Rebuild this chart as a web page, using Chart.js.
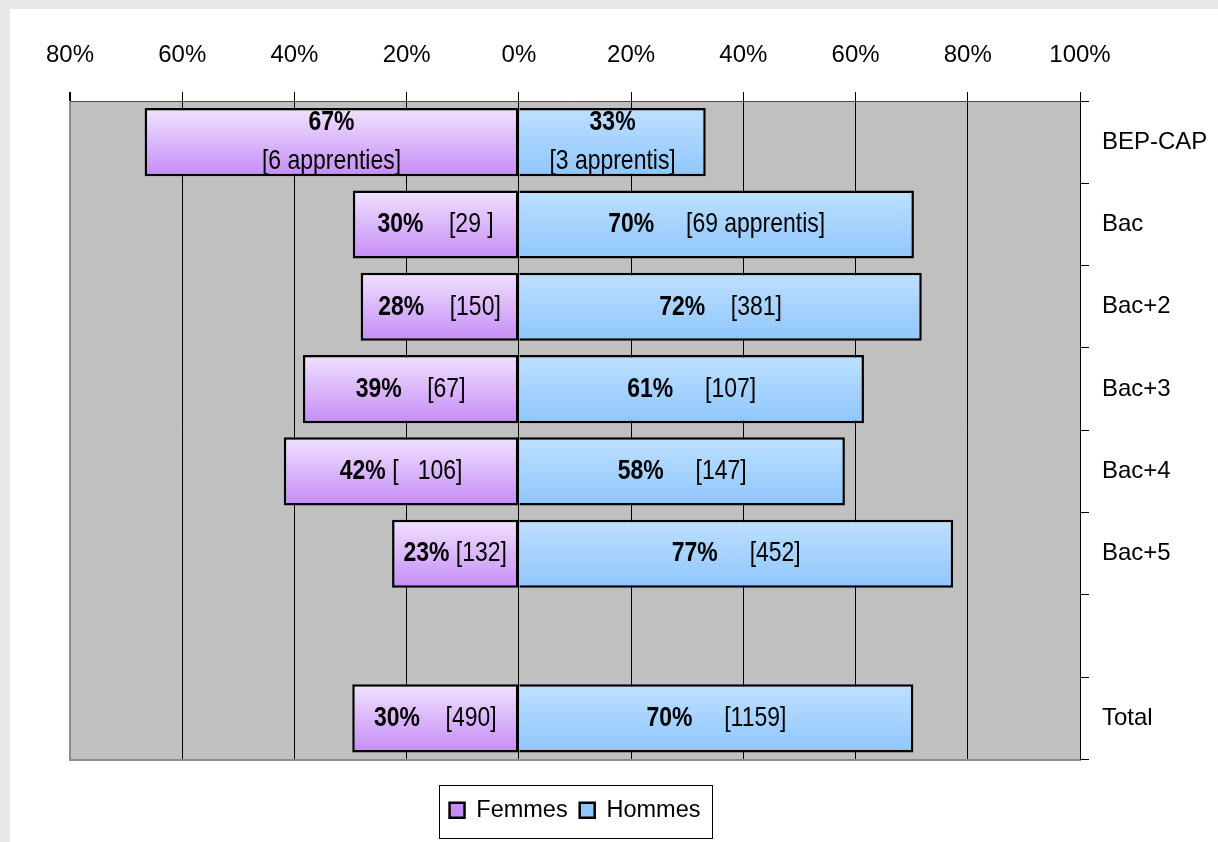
<!DOCTYPE html>
<html>
<head>
<meta charset="utf-8">
<script src="https://cdn.jsdelivr.net/npm/chart.js@4.4.1/dist/chart.umd.min.js"></script>
<style>
  html, body { margin: 0; padding: 0; background: #ffffff; }
  canvas { display: block; }
</style>
</head>
<body>
<canvas id="chart" width="1218" height="842"></canvas>
<script>
// ---------- DATA ----------
const categories = ["BEP-CAP", "Bac", "Bac+2", "Bac+3", "Bac+4", "Bac+5", "", "Total"];
const seriesNames = ["Femmes", "Hommes"];
// shares in % (Femmes drawn to the left, hence negative)
const femmesValues = [-66.7, -29.6, -28.2, -38.5, -41.9, -22.6, null, -29.7];
const hommesValues = [33.3, 70.4, 71.8, 61.5, 58.1, 77.4, null, 70.3];
// bar texts
const femmesPct = ["67%", "30%", "28%", "39%", "42%", "23%", "", "30%"];
const hommesPct = ["33%", "70%", "72%", "61%", "58%", "77%", "", "70%"];
const femmesCounts = ["\n[6 apprenties]", "    [29 ]", "    [150]", "    [67]", " [   106]", " [132]", "", "    [490]"];
const hommesCounts = ["\n[3 apprentis]", "     [69 apprentis]", "    [381]", "     [107]", "     [147]", "     [452]", "", "     [1159]"];
// axis
const xMin = -80, xMax = 100, xStep = 20;

// ---------- STYLE ----------
const FONT = '"Liberation Sans", Arial, sans-serif';
const NARROW_SCALE = 0.82;   // emulates a narrow face
const BAR_PCT = 0.827;

function barGradient(top, bottom, mid) {
  return (c) => {
    const chart = c.chart;
    if (c.type !== 'data' || !chart.chartArea || !chart.scales.y) return mid;
    const ys = chart.scales.y;
    const centre = ys.getPixelForValue(c.dataIndex);
    const half = (ys.height / categories.length) * BAR_PCT / 2;
    const g = chart.ctx.createLinearGradient(0, centre - half, 0, centre + half);
    g.addColorStop(0, top);
    g.addColorStop(1, bottom);
    return g;
  };
}

const backgroundPlugin = {
  id: 'panelBackground',
  beforeDraw(chart) {
    const { ctx, width, height, chartArea } = chart;
    ctx.save();
    ctx.fillStyle = '#e8e8e8';
    ctx.fillRect(0, 0, width, height);
    ctx.fillStyle = '#ffffff';
    ctx.fillRect(10, 9, width - 10, height - 9);
    ctx.fillStyle = '#c0c0c0';
    ctx.fillRect(chartArea.left, chartArea.top, chartArea.right - chartArea.left, chartArea.bottom - chartArea.top);
    ctx.restore();
  }
};

function narrowWidth(ctx, text, font) {
  ctx.font = font;
  return ctx.measureText(text).width * NARROW_SCALE;
}
function narrowText(ctx, text, x, y, font, align) {
  ctx.save();
  ctx.font = font;
  ctx.textAlign = align;
  ctx.textBaseline = 'middle';
  ctx.translate(x, y);
  ctx.scale(NARROW_SCALE, 1);
  ctx.fillText(text, 0, 0);
  ctx.restore();
}

const barLabelsPlugin = {
  id: 'barLabels',
  afterDatasetsDraw(chart) {
    const ctx = chart.ctx;
    const boldFont = 'bold 28px ' + FONT;
    const normFont = '28px ' + FONT;
    chart.data.datasets.forEach((ds, di) => {
      const meta = chart.getDatasetMeta(di);
      meta.data.forEach((bar, i) => {
        const pct = ds.pctLabels[i];
        const cnt = ds.countLabels[i];
        if (!pct) return;
        const { x, y, base } = bar.getProps(['x', 'y', 'base'], true);
        const cx = (x + base) / 2;
        ctx.save();
        ctx.fillStyle = '#000';
        if (cnt.startsWith('\n')) {
          narrowText(ctx, pct, cx, y - 20, boldFont, 'center');
          narrowText(ctx, cnt.slice(1), cx, y + 19, normFont, 'center');
        } else {
          const wp = narrowWidth(ctx, pct, boldFont);
          const wc = narrowWidth(ctx, cnt, normFont);
          const start = cx - (wp + wc) / 2;
          narrowText(ctx, pct, start, y, boldFont, 'left');
          narrowText(ctx, cnt, start + wp, y, normFont, 'left');
        }
        ctx.restore();
      });
    });
  }
};

const legendBoxPlugin = {
  id: 'legendBox',
  afterDraw(chart) {
    const lg = chart.legend;
    if (!lg || !lg.legendHitBoxes || !lg.legendHitBoxes.length) return;
    const hb = lg.legendHitBoxes;
    const left = Math.min(...hb.map(h => h.left)) - 11;
    const right = Math.max(...hb.map(h => h.left + h.width)) + 11;
    const top = Math.min(...hb.map(h => h.top)) - 14;
    const bottom = Math.max(...hb.map(h => h.top + h.height)) + 15;
    const ctx = chart.ctx;
    ctx.save();
    ctx.strokeStyle = '#000';
    ctx.lineWidth = 1;
    ctx.strokeRect(Math.round(left) + 0.5, Math.round(top) + 0.5, Math.round(right - left), Math.round(bottom - top));
    ctx.restore();
  }
};

new Chart(document.getElementById('chart'), {
  type: 'bar',
  data: {
    labels: categories,
    datasets: [
      {
        label: seriesNames[0],
        data: femmesValues,
        pctLabels: femmesPct,
        countLabels: femmesCounts,
        xAxisID: 'x', yAxisID: 'y',
        backgroundColor: barGradient('#f1e2ff', '#c58cf6', '#d6acfa'),
        borderColor: '#000',
        borderWidth: 2.5,
        borderSkipped: false,
        barPercentage: BAR_PCT,
        categoryPercentage: 1
      },
      {
        label: seriesNames[1],
        data: hommesValues,
        pctLabels: hommesPct,
        countLabels: hommesCounts,
        xAxisID: 'x', yAxisID: 'y',
        backgroundColor: barGradient('#bee0ff', '#8fc6fd', '#a4d2ff'),
        borderColor: '#000',
        borderWidth: 2.5,
        borderSkipped: 'start',
        barPercentage: BAR_PCT,
        categoryPercentage: 1
      }
    ]
  },
  options: {
    indexAxis: 'y',
    responsive: false,
    devicePixelRatio: 1,
    animation: false,
    layout: { padding: { left: 70, right: 0, top: 0, bottom: 10 } },
    scales: {
      x: {
        type: 'linear',
        position: 'top',
        stacked: true,
        min: xMin,
        max: xMax,
        afterFit: (s) => { s.height = 101; },
        ticks: {
          stepSize: xStep,
          autoSkip: false,
          maxRotation: 0,
          padding: 22,
          color: '#000',
          font: { family: FONT, size: 24 },
          callback: (v) => Math.abs(v) + '%'
        },
        grid: {
          color: (c) => (c.tick && c.tick.value === xMin) ? '#8c8c8c' : '#000',
          lineWidth: (c) => (c.tick && c.tick.value === xMin) ? 2 : 1,
          tickColor: '#000',
          tickLength: 9,
          drawTicks: true
        },
        border: { display: true, color: '#4a4a4a', width: 1 }
      },
      xBottom: {
        type: 'linear',
        axis: 'x',
        position: 'bottom',
        display: true,
        afterFit: (s) => { s.height = 27; },
        ticks: { display: false },
        grid: { display: false, drawTicks: false },
        border: { display: true, color: '#8c8c8c', width: 2 }
      },
      y: {
        type: 'category',
        position: 'right',
        stacked: true,
        afterFit: (s) => { s.width = 138; },
        ticks: {
          padding: 13,
          color: '#000',
          font: { family: FONT, size: 24 }
        },
        grid: {
          offset: true,
          drawOnChartArea: false,
          drawTicks: true,
          tickLength: 9,
          color: '#000',
          tickColor: '#000'
        },
        border: { display: true, color: '#000', width: 1 }
      }
    },
    plugins: {
      legend: {
        display: true,
        position: 'bottom',
        fullSize: false,
        labels: {
          color: '#000',
          font: { family: FONT, size: 23.5 },
          boxWidth: 15,
          boxHeight: 15,
          padding: 12
        }
      },
      tooltip: { enabled: false },
      title: { display: false }
    }
  },
  plugins: [backgroundPlugin, barLabelsPlugin, legendBoxPlugin]
});
</script>
</body>
</html>
